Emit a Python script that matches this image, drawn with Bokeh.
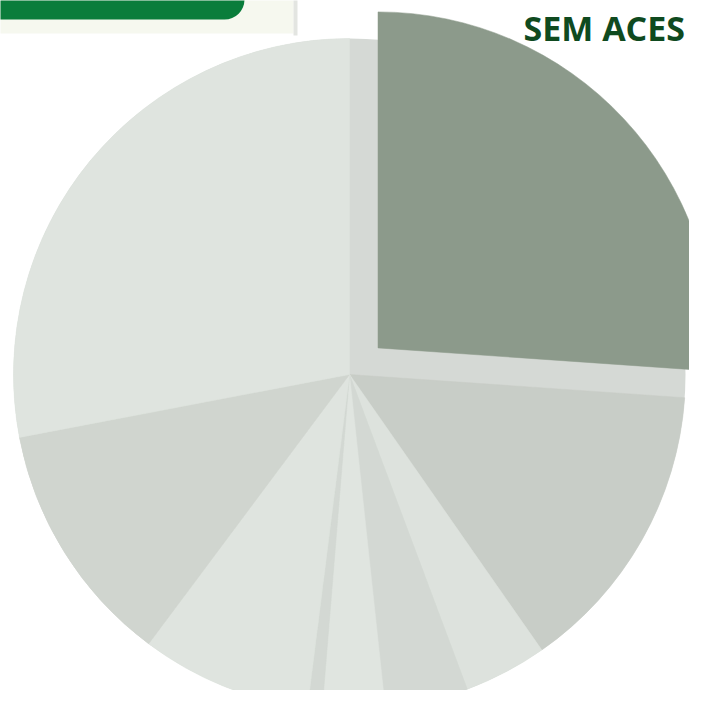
import math
from bokeh.plotting import figure
from bokeh.models import ColumnDataSource
from bokeh.core.properties import value
from bokeh.embed import file_html
from bokeh.resources import INLINE

# ---- data (clockwise from 12 o'clock) ----
categories = ["Sem acesso", "Fatia 2", "Fatia 3", "Fatia 4", "Fatia 5",
              "Fatia 6", "Fatia 7", "Fatia 8", "Fatia 9"]
values = [26.1, 14.2, 4.0, 4.0, 3.0, 0.7, 8.2, 11.8, 28.0]
colors = ["#8c9a8b", "#c8cdc7", "#dde2dd", "#d3d8d3", "#e0e5e0",
          "#d3d8d3", "#dfe4df", "#d0d5cf", "#dfe4df"]
exploded = [True, False, False, False, False, False, False, False, False]
title_text = "SEM ACES"

# ---- layout (picture pixel coordinates, y flipped) ----
W, H = 689, 690
PAGE_H = 706
cx, cy_img, r = 349, 374, 336
cy = PAGE_H - cy_img
explode_dist = 39

total = sum(values)
starts, ends, xs, ys = [], [], [], []
acc = 0.0
for v, ex in zip(values, exploded):
    a0 = 90.0 - acc / total * 360.0
    a1 = a0 - v / total * 360.0
    acc += v
    starts.append(math.radians(a0))
    ends.append(math.radians(a1))
    mid = math.radians((a0 + a1) / 2)
    d = explode_dist if ex else 0
    xs.append(cx + d * math.cos(mid))
    ys.append(cy + d * math.sin(mid))

src = ColumnDataSource(dict(category=categories, value=values, color=colors,
                            start=starts, end=ends, x=xs, y=ys))

p = figure(width=W, height=H, x_range=(0, W), y_range=(PAGE_H - H, PAGE_H),
           output_backend="svg", toolbar_location=None, min_border=0)
p.axis.visible = False
p.grid.visible = False
p.outline_line_color = None
p.background_fill_color = "white"
p.border_fill_color = "white"

# header panel top-left
p.quad(left=-10, right=293, top=PAGE_H + 10, bottom=PAGE_H - 33,
       fill_color="#f6f8ef", line_color=None)
p.segment(x0=[295], y0=[PAGE_H + 10], x1=[295], y1=[PAGE_H - 35],
          line_color="#e3e5e1", line_width=4)
p.quad(left=-30, right=244, top=PAGE_H + 30, bottom=PAGE_H - 19,
       fill_color="#0a7d3b", line_color=None, border_radius=20)

# ghost disc (original position behind exploded slice)
p.circle(x=[cx], y=[cy], radius=r, fill_color="#d5d9d5", line_color=None)

p.wedge(x="x", y="y", radius=r, start_angle="start", end_angle="end",
        direction="clock", fill_color="color", line_color="color",
        line_width=0.5, source=src)

p.text(x=[523], y=[PAGE_H - 27], text=[title_text], text_font=value("Open Sans"),
       text_font_style="bold", text_font_size="34px", text_color="#0f4a1f",
       text_baseline="middle", text_align="left")

open("out.html", "w").write(file_html(p, INLINE))
